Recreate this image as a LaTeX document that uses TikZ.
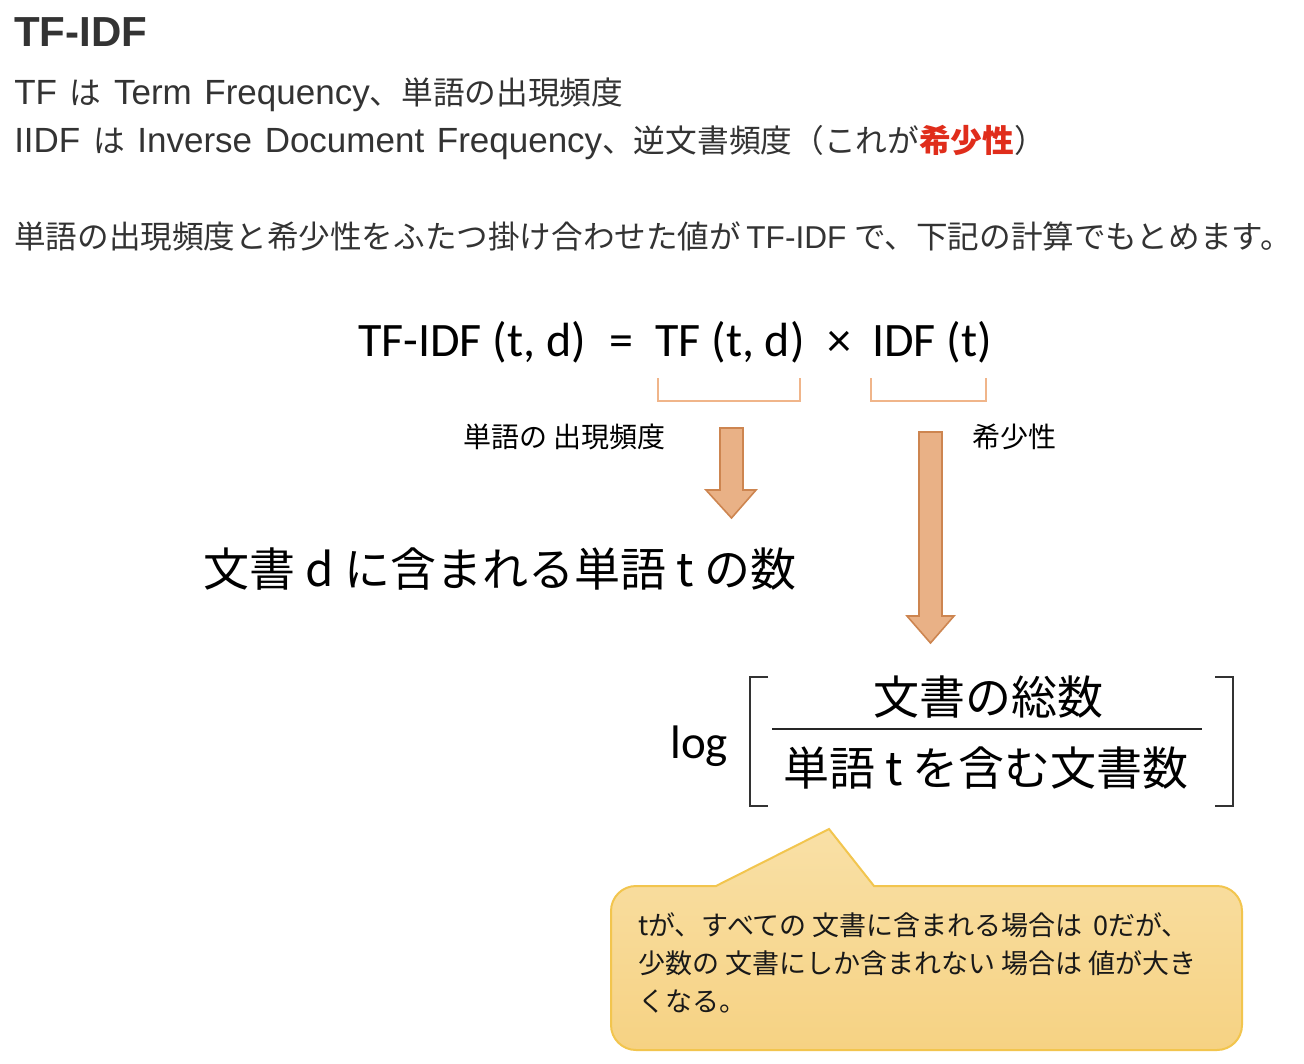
\documentclass[tikz,border=0pt]{standalone}
\usepackage{fontspec}
\setmainfont{Noto Sans CJK JP}
\newfontfamily\calfont{Carlito}
\newfontfamily\lat{Liberation Sans}
\newfontfamily\latwide[WordSpace=1.3]{Liberation Sans}
\newcommand\pxfs[1]{\fontsize{\dimexpr #1pt*3/4\relax}{\dimexpr #1pt*9/10\relax}\selectfont}
\definecolor{txtgray}{RGB}{51,51,51}
\definecolor{rarity}{RGB}{224,45,27}
\definecolor{arrowfill}{RGB}{233,177,134}
\definecolor{arrowline}{RGB}{205,133,80}
\definecolor{bracketline}{RGB}{240,181,138}
\definecolor{calltop}{RGB}{249,224,166}
\definecolor{callbot}{RGB}{246,210,131}
\definecolor{callline}{RGB}{242,197,78}
\tikzset{
  txt/.style={anchor=base west, inner sep=0pt, text=txtgray},
  formula/.style={inner sep=0pt, font=\calfont\pxfs{48}, text=black},
  jpbig/.style={inner sep=0pt, font=\pxfs{46}, text=black},
  jplabel/.style={inner sep=0pt, font=\pxfs{28}, text=black},
  blockarrow/.style={fill=arrowfill, draw=arrowline, line width=1.2pt, line join=miter},
  underbracket/.style={draw=bracketline, line width=1.5pt},
  sqbracket/.style={draw=black!80, line width=1.5pt},
  callout/.style={top color=calltop, bottom color=callbot, draw=callline, line width=1.5pt},
  calltext/.style={anchor=base west, inner sep=0pt, font=\pxfs{27}, text=black!90}
}
\newcommand\lw[1]{{\latwide\pxfs{35}#1}}
\begin{document}
\begin{tikzpicture}[x=0.75pt,y=-0.75pt]
\useasboundingbox (0,0) rectangle (1304,1064);
\fill[white] (0,0) rectangle (1304,1064);
% header text
\node[txt, font=\lat\bfseries\pxfs{42}] (title) at (14,46) {TF-IDF};
\node[txt, font=\pxfs{31.7}] (line2) at (14,104) {\lw{TF }は\lw{ Term Frequency}、単語の出現頻度};
\node[txt, font=\pxfs{31.7}] (line3) at (14,152) {\lw{IIDF }は\lw{ Inverse Document Frequency}、逆文書頻度（これが{\bfseries\color{rarity}希少性}）};
\node[txt, font=\pxfs{31.6}] (line4) at (14,248) {単語の出現頻度と希少性をふたつ掛け合わせた値が\hspace{4pt}{\lat TF-IDF}\hspace{6pt}で、下記の計算でもとめます。};
% formula
\node[formula, anchor=base west] (tfidf) at (358,356) {TF-IDF (t, d)};
\node[formula, anchor=base] (eq) at (621,356) {=};
\node[formula, anchor=base west] (tf) at (655,356) {TF (t, d)};
\node[formula, anchor=base] (times) at (839,356) {×};
\node[formula, anchor=base west] (idf) at (872,356) {IDF (t)};
% under brackets
\draw[underbracket] (658,378) -- (658,401) -- (800,401) -- (800,378);
\draw[underbracket] (871,378) -- (871,401) -- (986,401) -- (986,378);
% labels
\node[jplabel, anchor=base west] (tflabel) at (463,447) {単語の 出現頻度};
\node[jplabel, anchor=base west] (idflabel) at (972,447) {希少性};
% arrows
\draw[blockarrow] (720,428) -- (743,428) -- (743,490) -- (756,490) -- (731.5,518) -- (706,490) -- (720,490) -- cycle;
\draw[blockarrow] (919,432) -- (942,432) -- (942,616) -- (954,616) -- (930.5,643) -- (907,616) -- (919,616) -- cycle;
% TF meaning
\node[jpbig, anchor=base west] (tfmean) at (203,586) {文書 d に含まれる単語 t の数};
% IDF meaning
\node[inner sep=0pt, font=\calfont\pxfs{47}, anchor=base west] (log) at (670,758) {log};
\draw[sqbracket] (768,677) -- (750,677) -- (750,806) -- (768,806);
\draw[sqbracket] (1215,677) -- (1233,677) -- (1233,806) -- (1215,806);
\node[jpbig, anchor=base] (num) at (988,714) {文書の総数};
\draw[black!85, line width=1.2pt] (772,729) -- (1202,729);
\node[jpbig, anchor=base] (den) at (986,785) {単語 t を含む文書数};
% callout
\draw[callout] (829,829) -- (874,886) -- (1217,886) arc[start angle=-90, end angle=0, radius=25] -- (1242,1025) arc[start angle=0, end angle=90, radius=25] -- (636,1050) arc[start angle=90, end angle=180, radius=25] -- (611,911) arc[start angle=180, end angle=270, radius=25] -- (716,886) -- cycle;
\node[calltext] (c1) at (638,935) {tが、すべての 文書に含まれる場合は \hspace{3pt}0だが、};
\node[calltext] (c2) at (638,973) {少数の 文書にしか含まれない 場合は 値が大き};
\node[calltext] (c3) at (638,1011) {くなる。};
\end{tikzpicture}
\end{document}
